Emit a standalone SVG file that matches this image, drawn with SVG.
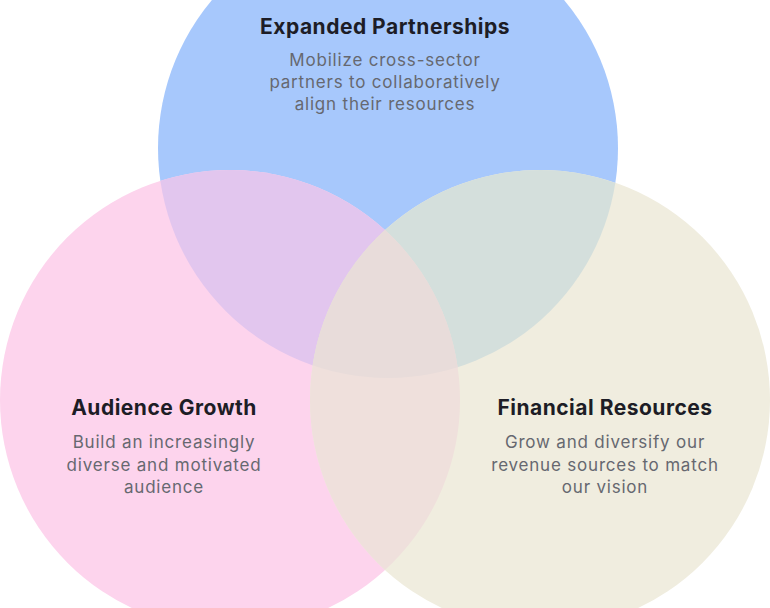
<svg xmlns="http://www.w3.org/2000/svg" width="770" height="608" viewBox="0 0 770 608">
<style>
.t{font-family:Inter,"Liberation Sans",sans-serif;font-weight:700;font-size:21px;letter-spacing:0.5px;fill:#1d1d26;text-anchor:middle}
.b{font-family:Inter,"Liberation Sans",sans-serif;font-size:17px;letter-spacing:0.8px;fill:#666870;text-anchor:middle}
</style>
<defs>
<clipPath id="cTop"><circle cx="388" cy="148" r="230"/></clipPath>
<clipPath id="cLeft"><circle cx="230" cy="400" r="230"/></clipPath>
<clipPath id="cRight"><circle cx="540" cy="400" r="230"/></clipPath>
</defs>
<rect width="770" height="608" fill="#ffffff"/>
<g id="node-top"><circle cx="388" cy="148" r="230" fill="#a7c8fc"/></g>
<g id="node-left"><circle cx="230" cy="400" r="230" fill="#fdd4ed"/></g>
<g id="node-right"><circle cx="540" cy="400" r="230" fill="#f0eddf"/></g>
<g id="overlaps">
<g clip-path="url(#cTop)"><circle cx="230" cy="400" r="230" fill="#e2c6ee"/><circle cx="540" cy="400" r="230" fill="#d4dfdc"/></g>
<g clip-path="url(#cLeft)"><circle cx="540" cy="400" r="230" fill="#efe0dc"/></g>
<g clip-path="url(#cLeft)"><g clip-path="url(#cTop)"><circle cx="540" cy="400" r="230" fill="#e8dcda"/></g></g>
</g>
<g id="labels">
<text class="t" x="385" y="34">Expanded Partnerships</text>
<text class="b" x="385" y="66">Mobilize cross-sector</text>
<text class="b" x="385" y="88">partners to collaboratively</text>
<text class="b" x="385" y="110">align their resources</text>
<text class="t" x="164" y="415">Audience Growth</text>
<text class="b" x="164" y="448">Build an increasingly</text>
<text class="b" x="164" y="471">diverse and motivated</text>
<text class="b" x="164" y="493">audience</text>
<text class="t" x="605" y="415">Financial Resources</text>
<text class="b" x="605" y="448">Grow and diversify our</text>
<text class="b" x="605" y="471">revenue sources to match</text>
<text class="b" x="605" y="493">our vision</text>
</g>
<g id="connectors"/>
</svg>
